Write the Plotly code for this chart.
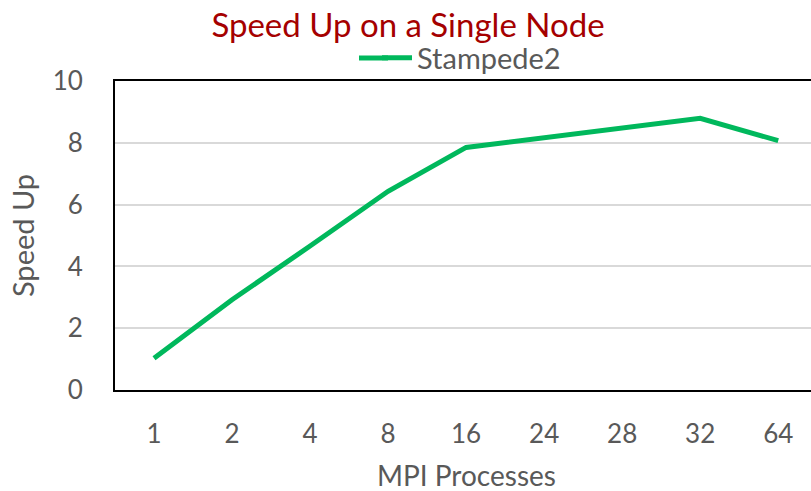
import plotly.graph_objects as go

# MPI process counts (categorical x axis) and measured speed-up
processes = ["1", "2", "4", "8", "16", "24", "28", "32", "64"]
speedup = [1.03, 2.92, 4.66, 6.43, 7.85, 8.16, 8.47, 8.79, 8.07]
series_name = "Stampede2"
x_title = "MPI Processes"

W, H = 811, 491
ML, MR, MT, MB = 115, 0, 81, 101
GREY = "#595959"
GREEN = "#00B85C"
FONT = "Lato, 'Open Sans', sans-serif"

fig = go.Figure()
fig.add_trace(go.Scatter(
    x=processes, y=speedup, name=series_name, mode="lines",
    line=dict(color=GREEN, width=5),
))

pw = W - ML - MR
ph = H - MT - MB
legend_y = 58  # px from top

fig.update_layout(
    width=W, height=H,
    margin=dict(l=ML, r=MR, t=MT, b=MB),
    paper_bgcolor="white", plot_bgcolor="white",
    font=dict(family=FONT, color=GREY, size=26),
    title=dict(
        text="Speed Up on a Single Node",
        font=dict(family=FONT, size=33, color="#A50000"),
        x=(408 - ML) / pw, xref="paper", xanchor="center",
        y=1 - 25 / H, yref="container", yanchor="middle",
    ),
    showlegend=True,
    legend=dict(
        orientation="h", x=(377 - ML) / pw, xanchor="left",
        y=1 + (MT - legend_y) / ph, yanchor="middle",
        font=dict(family=FONT, size=29, color=GREY),
        bgcolor="rgba(0,0,0,0)", itemwidth=30,
    ),
    xaxis=dict(
        type="category", range=[-0.5, 8.42], automargin=False,
        showgrid=False, showline=True, linecolor="black", linewidth=2,
        mirror=True, ticks="", ticklabelstandoff=20,
        tickfont=dict(size=26, color=GREY),
    ),
    yaxis=dict(
        range=[0, 10], dtick=2, showgrid=True, gridcolor="#D9D9D9", gridwidth=1.5,
        showline=True, linecolor="black", linewidth=2, mirror=False,
        zeroline=False, ticks="", ticklabelstandoff=25, automargin=False,
        tickfont=dict(size=26, color=GREY),
        title=dict(text="Speed Up", font=dict(size=29, color=GREY), standoff=9),
    ),
)

# x-axis title, centred under the full category span
fig.add_annotation(
    text=x_title, xref="paper", yref="paper",
    x=(466 - ML) / pw, y=-(475 - (H - MB)) / ph,
    xanchor="center", yanchor="middle", showarrow=False,
    font=dict(family=FONT, size=28, color=GREY),
)

# longer legend sample line, extending the legend's own key to the left
fig.add_shape(
    type="line", xref="paper", yref="paper",
    x0=(359 - ML) / pw, x1=(388 - ML) / pw,
    y0=1 + (MT - legend_y) / ph, y1=1 + (MT - legend_y) / ph,
    line=dict(color=GREEN, width=5),
)

fig.write_html("out.html")
